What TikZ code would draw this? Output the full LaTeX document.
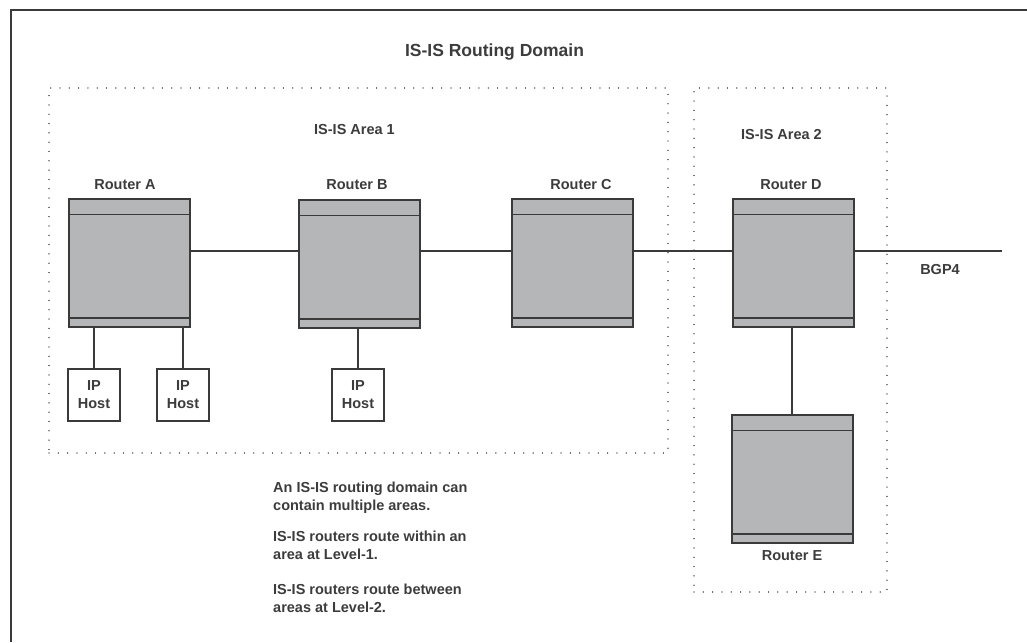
\documentclass[tikz,border=0pt]{standalone}
\usepackage{fontspec}
\setmainfont{Liberation Sans}
\definecolor{ink}{HTML}{3A3A3A}
\definecolor{txt}{HTML}{3C3C3C}
\definecolor{boxfill}{HTML}{B5B6B8}
\definecolor{dotc}{HTML}{555555}
\begin{document}
\begin{tikzpicture}[x=1pt,y=-1pt,
  router/.style={draw=ink,line width=2pt,fill=boxfill,minimum width=121pt,minimum height=128pt,inner sep=0pt},
  host/.style={draw=ink,line width=1.5pt,fill=white,minimum width=52pt,minimum height=52pt,inner sep=0pt,
     align=center,font=\fontsize{14.5}{18}\selectfont\bfseries,text=txt},
  lbl/.style={font=\fontsize{14.5}{18}\selectfont\bfseries,text=txt,inner sep=0pt},
  note/.style={font=\fontsize{14.5}{18}\selectfont\bfseries,text=txt,inner sep=0pt,align=left,anchor=north west},
  link/.style={draw=ink,line width=2pt},
  area/.style={draw=dotc,line width=1.3pt,dash pattern=on 0.01pt off 9.3pt,line cap=round},
  band/.style={draw=ink,line width=1.4pt}
]
\useasboundingbox (0,0) rectangle (1027,642);
% frame
\coordinate (f1) at (1027,10);
\coordinate (f2) at (10.5,10);
\coordinate (f3) at (10.5,642);
\draw[ink,line width=2pt] (f1) -- (f2) -- (f3);

\node[lbl,font=\fontsize{17.5}{20}\selectfont\bfseries] (title) at (494.5,52) {IS-IS Routing Domain};

% areas
\node[area,minimum width=619pt,minimum height=365pt,inner sep=0pt] (area1) at (358.5,270.5) {};
\node[area,minimum width=193pt,minimum height=504pt,inner sep=0pt] (area2) at (790.5,340) {};
\node[lbl] (a1lbl) at (354.5,130) {IS-IS Area 1};
\node[lbl] (a2lbl) at (781.5,135) {IS-IS Area 2};

% routers
\node[router] (A) at (129.5,263) {};
\node[router] (B) at (359.5,264) {};
\node[router] (C) at (572.5,263) {};
\node[router] (D) at (793,263) {};
\node[router] (E) at (792,479) {};
\foreach \r in {A,B,C,D,E}{
  \draw[band] ([yshift=-16.5pt]\r.north west) -- ([yshift=-16.5pt]\r.north east);
  \draw[band] ([yshift=10pt]\r.south west) -- ([yshift=10pt]\r.south east);
}
\node[lbl] (Alb) at (125,185) {Router A};
\node[lbl] (Blb) at (357,185) {Router B};
\node[lbl] (Clb) at (581,185) {Router C};
\node[lbl] (Dlb) at (791,185) {Router D};
\node[lbl] (Elb) at (792,556) {Router E};

% hosts
\node[host] (h1) at (94,395) {IP\\Host};
\node[host] (h2) at (183,395) {IP\\Host};
\node[host] (h3) at (358,395) {IP\\Host};

% links
\draw[link] ([yshift=12pt]A.east) -- ([yshift=13pt]B.west);
\draw[link] ([yshift=13pt]B.east) -- ([yshift=12pt]C.west);
\draw[link] ([yshift=12pt]C.east) -- ([yshift=12pt]D.west);
\coordinate (bgpend) at (1002,251);
\draw[link] ([yshift=12pt]D.east) -- (bgpend);
\node[lbl] (bgp) at (940,270) {BGP4};
\draw[link] (E.north) -- (E.north |- D.south);
\draw[link] (h1.north) -- (h1.north |- A.south);
\draw[link] (h2.north) -- (h2.north |- A.south);
\draw[link] (h3.north) -- (h3.north |- B.south);

% notes
\node[note] (n1) at (273,482) {An IS-IS routing domain can\\contain multiple areas.};
\node[note] (n2) at (273,531) {IS-IS routers route within an\\area at Level-1.};
\node[note] (n3) at (273,584) {IS-IS routers route between\\areas at Level-2.};
\end{tikzpicture}
\end{document}
